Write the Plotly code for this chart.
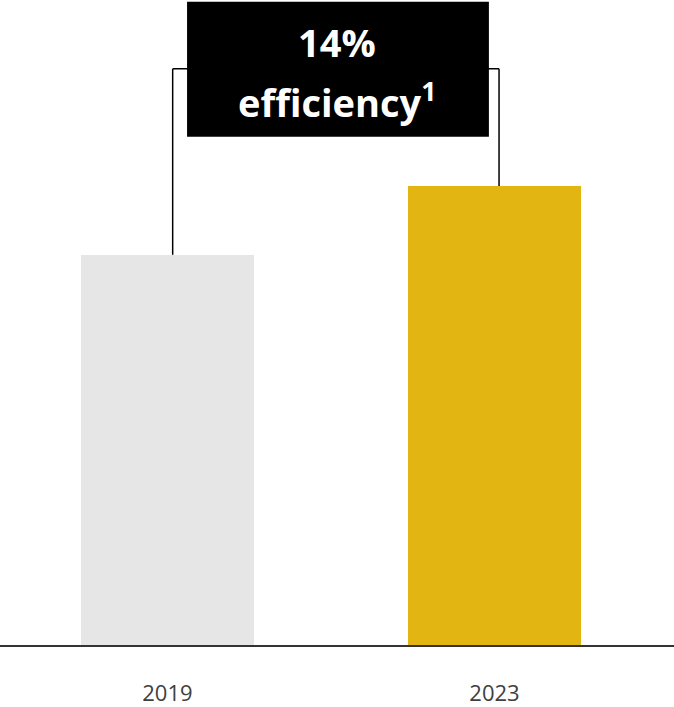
import plotly.graph_objects as go

years = ["2019", "2023"]
values = [85, 100]
colors = ["#e6e6e6", "#e3b512"]
headline = "14%"
subline = "efficiency<sup>1</sup>"

x = list(range(len(years)))
ymax = 140.5

fig = go.Figure()
fig.add_trace(go.Bar(x=x, y=values, marker=dict(color=colors, line=dict(width=0)),
                     width=0.53, hoverinfo="skip"))

# bracket
bracket_y = 125.5
xl, xr = x[0] + 0.016, x[1] + 0.014
fig.add_shape(type="line", x0=xl, x1=xl, y0=values[0], y1=bracket_y, line=dict(color="black", width=1.5))
fig.add_shape(type="line", x0=xr, x1=xr, y0=values[1], y1=bracket_y, line=dict(color="black", width=1.5))
fig.add_shape(type="line", x0=xl, x1=xr, y0=bracket_y, y1=bracket_y, line=dict(color="black", width=1.5))
# black label box
fig.add_shape(type="rect", x0=0.06, x1=0.983, y0=110.7, y1=140.1, fillcolor="black", line=dict(width=0))

fig.add_annotation(x=0.52, y=131.4, text=headline, showarrow=False,
                   font=dict(family="Open Sans", size=38, color="white", weight="bold"), yanchor="middle")
fig.add_annotation(x=0.52, y=118.6, text=subline, showarrow=False,
                   font=dict(family="Open Sans", size=38, color="white", weight="bold"), yanchor="middle")

fig.update_layout(
    width=674, height=707, margin=dict(l=0, r=0, t=0, b=62),
    paper_bgcolor="white", plot_bgcolor="white", showlegend=False,
    bargap=0,
    xaxis=dict(range=[-0.512, 1.549], tickvals=x, ticktext=years, showgrid=False, zeroline=False,
               showline=True, linecolor="#333333", linewidth=1.5,
               ticks="outside", ticklen=28, tickcolor="rgba(0,0,0,0)",
               tickfont=dict(family="Open Sans", size=22, color="#404040")),
    yaxis=dict(range=[0, ymax], visible=False),
)
fig.write_html("out.html")
